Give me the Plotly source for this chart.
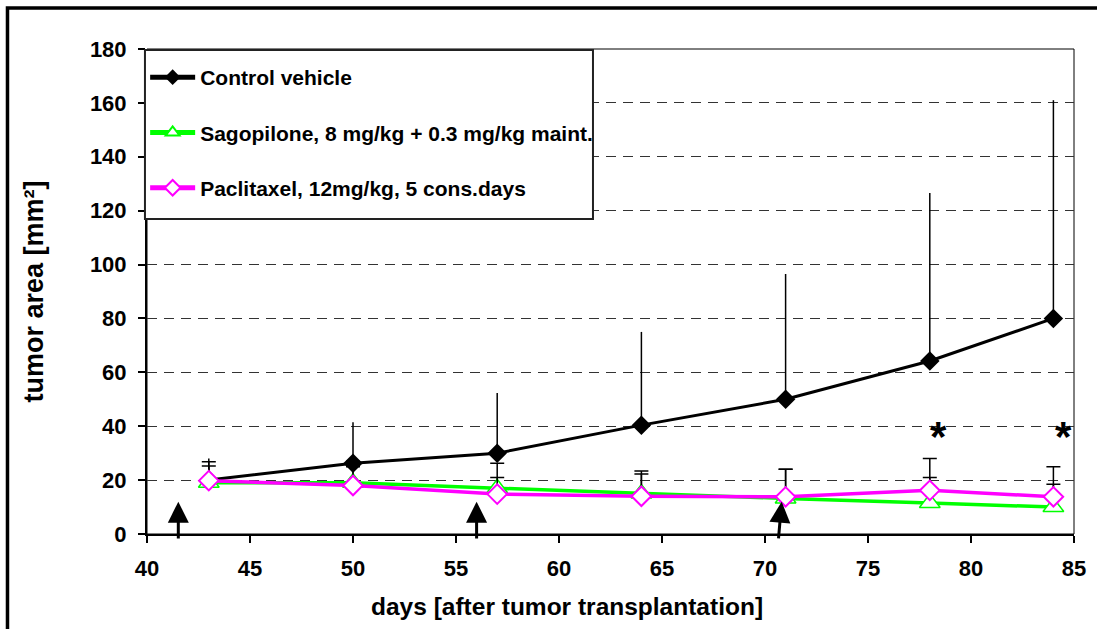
import plotly.graph_objects as go

days = [43, 50, 57, 64, 71, 78, 84]

control_vals = [20, 26.3, 30, 40.4, 50, 64.2, 80]
control_err = [8, 15.2, 22.3, 34.6, 46.5, 62.4, 81]

sago_vals = [19, 19, 17, 15, 13.2, 11.5, 10]
sago_err = [6.2, 8, 4, 7.3, 10.8, 9.5, 8.5]

pacli_vals = [19.8, 18, 14.8, 14, 13.8, 16.2, 13.8]
pacli_err = [7, 7, 11.5, 9.4, 10.2, 11.8, 11.2]

names = ["Control vehicle",
         "Sagopilone, 8 mg/kg + 0.3 mg/kg maint.",
         "Paclitaxel, 12mg/kg, 5 cons.days"]

arrow_tip_x = [41.52, 56.0, 70.81]
arrow_tail_x = [41.52, 56.0, 70.65]
arrow_tip_y = 12
arrow_tail_y = -2.2

star_x = [78.4, 84.5]
star_y = 38

x_ticks = list(range(40, 86, 5))
y_ticks = list(range(0, 181, 20))

x_title = "days [after tumor transplantation]"
y_title = "tumor area [mm²]"

FONT = "Liberation Sans, Arial, sans-serif"

fig = go.Figure()

fig.add_trace(go.Scatter(
    x=days, y=control_vals, name=names[0], legendgroup="a",
    mode="lines+markers",
    line=dict(color="black", width=3),
    marker=dict(symbol="diamond", size=15, color="black"),
    error_y=dict(type="data", symmetric=False, array=control_err,
                 arrayminus=[0] * len(days), color="black", thickness=1.5, width=0),
))
fig.add_trace(go.Scatter(
    x=days, y=sago_vals, name=names[1], legendgroup="b",
    mode="lines+markers",
    line=dict(color="#00ff00", width=3.5),
    marker=dict(symbol="triangle-up", size=18, color="white",
                line=dict(width=1.5, color="#00ff00")),
    error_y=dict(type="data", symmetric=False, array=sago_err,
                 arrayminus=[0] * len(days), color="black", thickness=1.5, width=7),
))
fig.add_trace(go.Scatter(
    x=days, y=pacli_vals, name=names[2], legendgroup="c",
    mode="lines+markers",
    line=dict(color="#ff00ff", width=3.5),
    marker=dict(symbol="diamond", size=15, color="white",
                line=dict(width=2, color="#ff00ff")),
    error_y=dict(type="data", symmetric=False, array=pacli_err,
                 arrayminus=[0] * len(days), color="black", thickness=1.5, width=7),
))

annotations = []
for tx, bx in zip(arrow_tip_x, arrow_tail_x):
    annotations.append(dict(
        x=tx, y=arrow_tip_y, ax=bx, ay=arrow_tail_y, xref="x", yref="y",
        axref="x", ayref="y", text="", showarrow=True, arrowhead=2,
        arrowsize=1.4, arrowwidth=3, arrowcolor="black"))
for sx in star_x:
    annotations.append(dict(
        x=sx, y=star_y, xref="x", yref="y", text="<b>*</b>", showarrow=False,
        font=dict(family=FONT, size=42, color="black"), yanchor="middle", yshift=-5))
annotations.append(dict(
    x=0.4536, y=-0.1505, xref="paper", yref="paper", text=x_title, showarrow=False,
    xanchor="center", yanchor="middle",
    font=dict(family=FONT, size=24.5, color="black", weight="bold")))

shapes = [
    dict(type="rect", xref="paper", yref="paper", x0=0, x1=1, y0=0, y1=1,
         line=dict(color="black", width=1), layer="below"),
    # legend box
    dict(type="rect", xref="paper", yref="paper", x0=-0.0022, x1=0.4811,
         y0=0.6495, y1=0.998, fillcolor="white",
         line=dict(color="#222", width=2), layer="above"),
    # outer chart border
    dict(type="rect", xref="paper", yref="paper", x0=-0.1505, x1=1.2, y0=-0.4, y1=1.0845,
         line=dict(color="black", width=3.5)),
]

fig.update_layout(
    width=1097, height=629,
    margin=dict(l=147, r=23, t=49, b=95),
    paper_bgcolor="white", plot_bgcolor="white",
    font=dict(family=FONT, color="black"),
    showlegend=True,
    legend=dict(x=-0.002, y=0.9835, xanchor="left", yanchor="top",
                bgcolor="rgba(0,0,0,0)", borderwidth=0,
                font=dict(family=FONT, size=21, color="black", weight="bold"),
                itemsizing="constant", itemwidth=45,
                tracegroupgap=25, traceorder="grouped"),
    annotations=annotations,
    shapes=shapes,
    xaxis=dict(range=[40, 85], tickvals=x_ticks, showgrid=False, zeroline=False,
               showline=True, linecolor="black", linewidth=2,
               ticks="outside", ticklen=7, tickwidth=2, tickcolor="black",
               tickfont=dict(family=FONT, size=22, weight="bold"),
               ticklabelstandoff=7),
    yaxis=dict(range=[0, 180], tickvals=y_ticks, showgrid=True, gridcolor="#333",
               gridwidth=1, griddash="10px,7px", zeroline=False,
               showline=True, linecolor="black", linewidth=2,
               ticks="outside", ticklen=7, tickwidth=2, tickcolor="black",
               tickfont=dict(family=FONT, size=22, weight="bold"),
               ticklabelstandoff=7,
               title=dict(text=y_title,
                          font=dict(family=FONT, size=27, weight="bold"), standoff=38)),
)

fig.write_html("out.html")
